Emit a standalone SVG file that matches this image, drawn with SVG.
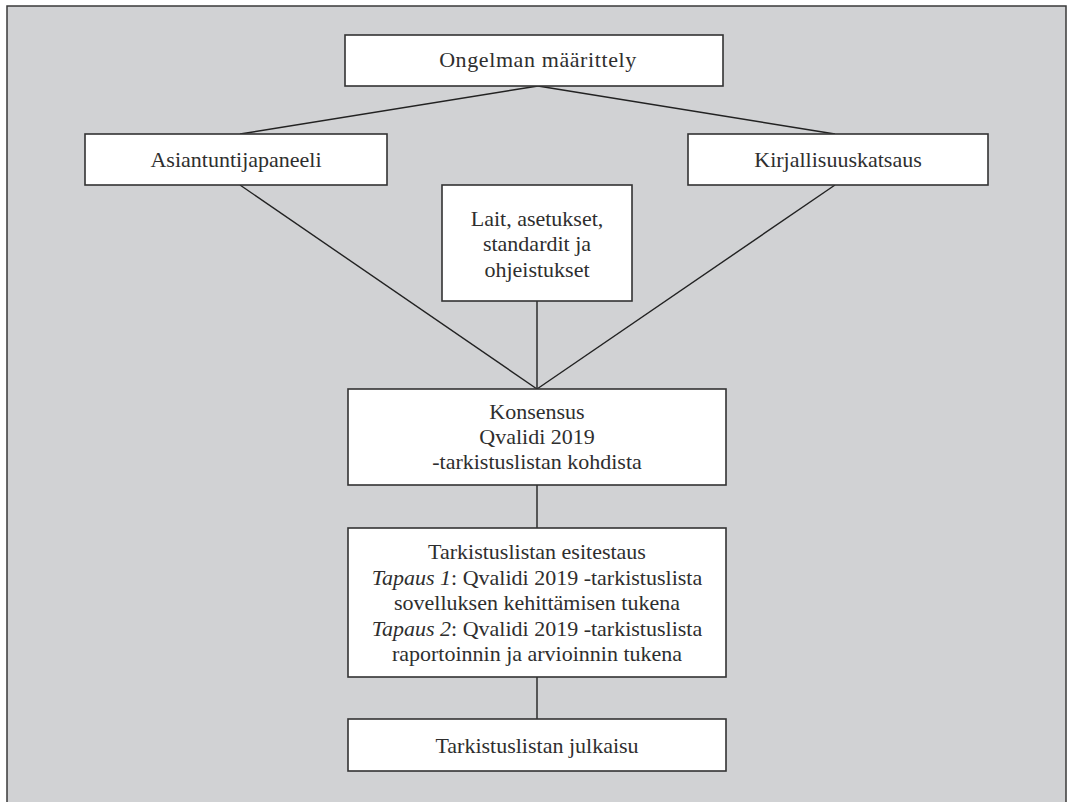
<svg xmlns="http://www.w3.org/2000/svg" width="1069" height="802" viewBox="0 0 1069 802">
<style>
.bg{fill:#d1d2d4;stroke:#3a3a3a;stroke-width:1.5}
.box{fill:#ffffff;stroke:#333333;stroke-width:1.6}
.t{font-family:"Liberation Serif","DejaVu Serif",serif;font-size:22px;fill:#2e2e2e;text-anchor:middle}
.c{stroke:#222222;stroke-width:1.4;fill:none}
</style>
<rect class="bg" x="7" y="6" width="1059" height="810"/>
<g id="connectors">
<line class="c" x1="538" y1="86" x2="240" y2="134"/>
<line class="c" x1="538" y1="86" x2="835" y2="134"/>
<line class="c" x1="240" y1="185" x2="537" y2="389"/>
<line class="c" x1="835" y1="185" x2="537" y2="389"/>
<line class="c" x1="537" y1="301" x2="537" y2="389"/>
<line class="c" x1="537" y1="485" x2="537" y2="528"/>
<line class="c" x1="537" y1="677" x2="537" y2="719"/>
</g>
<g id="ongelma">
<rect class="box" x="345" y="35" width="378" height="51"/>
<text class="t" x="538" y="67" letter-spacing="0.6">Ongelman määrittely</text>
</g>
<g id="asiantuntija">
<rect class="box" x="85" y="134" width="302" height="51"/>
<text class="t" x="236" y="167">Asiantuntijapaneeli</text>
</g>
<g id="kirjallisuus">
<rect class="box" x="688" y="134" width="300" height="51"/>
<text class="t" x="838" y="167">Kirjallisuuskatsaus</text>
</g>
<g id="lait">
<rect class="box" x="442" y="185" width="190" height="116"/>
<text class="t" x="537" y="226">Lait, asetukset,</text>
<text class="t" x="537" y="251">standardit ja</text>
<text class="t" x="537" y="277">ohjeistukset</text>
</g>
<g id="konsensus">
<rect class="box" x="348" y="389" width="378" height="96"/>
<text class="t" x="537" y="419">Konsensus</text>
<text class="t" x="537" y="444">Qvalidi 2019</text>
<text class="t" x="537" y="469">-tarkistuslistan kohdista</text>
</g>
<g id="esitestaus">
<rect class="box" x="348" y="528" width="378" height="149"/>
<text class="t" x="537" y="559">Tarkistuslistan esitestaus</text>
<text class="t" x="537" y="585"><tspan font-style="italic">Tapaus 1</tspan>: Qvalidi 2019 -tarkistuslista</text>
<text class="t" x="537" y="610">sovelluksen kehittämisen tukena</text>
<text class="t" x="537" y="636"><tspan font-style="italic">Tapaus 2</tspan>: Qvalidi 2019 -tarkistuslista</text>
<text class="t" x="537" y="661">raportoinnin ja arvioinnin tukena</text>
</g>
<g id="julkaisu">
<rect class="box" x="348" y="719" width="378" height="52"/>
<text class="t" x="537" y="753">Tarkistuslistan julkaisu</text>
</g>
</svg>
